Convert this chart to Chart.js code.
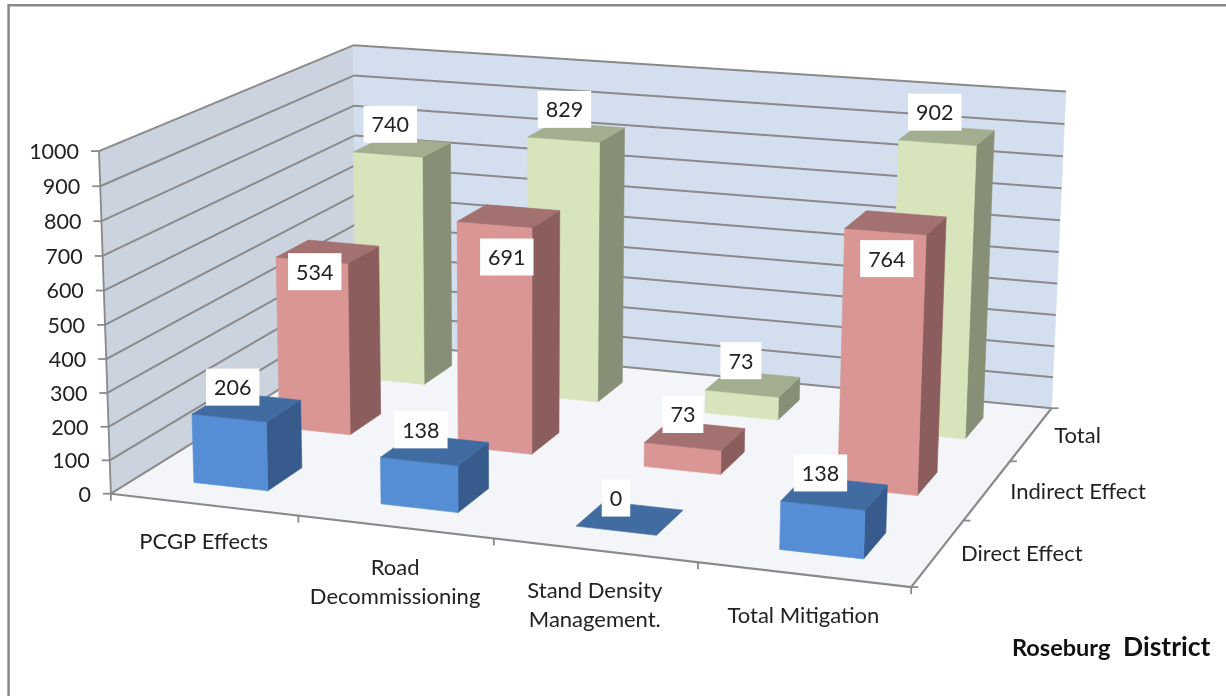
<!DOCTYPE html>
<html>
<head>
  <meta charset="UTF-8">
  <title>Roseburg District</title>
  <script src="https://cdn.jsdelivr.net/npm/chart.js@4"></script>
  <style>
    html, body { margin: 0; padding: 0; background: #fff; overflow: hidden; }
    canvas { display: block; }
  </style>
</head>
<body>
<canvas id="myChart" width="1226" height="696"></canvas>
<script>
  // chart values
  const categories = ["PCGP Effects", ["Road", "Decommissioning"], ["Stand Density", "Management."], "Total Mitigation"];
  const seriesNames = ["Direct Effect", "Indirect Effect", "Total"];
  const directEffect = [206, 138, 0, 138];
  const indirectEffect = [534, 691, 73, 764];
  const totalEffect = [740, 829, 73, 902];
  const valueMax = 1000;
  const valueStep = 100;

  const frontColors = ["#558ed5", "#d99694", "#d7e4bc"];
  const topColors = ["#416ca1", "#a37170", "#a3ad8f"];
  const sideColors = ["#365b8c", "#8b5e5d", "#878f76"];
  const FONT = "Lato, sans-serif";
  const TEXT = "#222";
  const GRID = "#8a8a8a";

  // where the corners of the plot box land on the canvas: [category, depth, value, px, py]
  const boxCorners = [
    [0, 0, 0, 112, 493],
    [0, 0, 1, 98, 151],
    [0, 1, 1, 354.5, 45],
    [0, 1, 0, 356, 342],
    [1, 1, 1, 1065.5, 92],
    [1, 1, 0, 1052, 407],
    [1, 0, 0, 911, 588]
  ];

  // least squares fit of a 3x4 perspective matrix to the corners
  function fitCamera(points) {
    const n = 11;
    const A = [];
    for (let i = 0; i < n; i++) A.push(new Array(n + 1).fill(0));
    function addRow(r, b) {
      for (let i = 0; i < n; i++) {
        for (let j = 0; j < n; j++) A[i][j] += r[i] * r[j];
        A[i][n] += r[i] * b;
      }
    }
    points.forEach(function(p) {
      const X = p[0], Y = p[1], Z = p[2], x = p[3] / 1000, y = p[4] / 1000;
      addRow([X, Y, Z, 1, 0, 0, 0, 0, -x * X, -x * Y, -x * Z], x);
      addRow([0, 0, 0, 0, X, Y, Z, 1, -y * X, -y * Y, -y * Z], y);
    });
    for (let c = 0; c < n; c++) {
      let best = c;
      for (let r = c + 1; r < n; r++) if (Math.abs(A[r][c]) > Math.abs(A[best][c])) best = r;
      const tmp = A[c]; A[c] = A[best]; A[best] = tmp;
      for (let r = 0; r < n; r++) {
        if (r === c) continue;
        const f = A[r][c] / A[c][c];
        for (let k = c; k <= n; k++) A[r][k] -= f * A[c][k];
      }
    }
    return A.map(function(row, i) { return row[n] / row[i]; });
  }

  const cam = fitCamera(boxCorners);

  function project(u, v, w) {
    const d = cam[8] * u + cam[9] * v + cam[10] * w + 1;
    return {
      x: 1000 * (cam[0] * u + cam[1] * v + cam[2] * w + cam[3]) / d,
      y: 1000 * (cam[4] * u + cam[5] * v + cam[6] * w + cam[7]) / d
    };
  }

  function fillPoly(ctx, pts, color) {
    ctx.beginPath();
    pts.forEach(function(p, i) { if (i) ctx.lineTo(p.x, p.y); else ctx.moveTo(p.x, p.y); });
    ctx.closePath();
    ctx.fillStyle = color;
    ctx.fill();
    // same colour hairline so neighbouring faces leave no seam
    ctx.strokeStyle = color;
    ctx.lineWidth = 0.6;
    ctx.stroke();
  }

  function line(ctx, a, b, width) {
    ctx.beginPath();
    ctx.moveTo(a.x, a.y);
    ctx.lineTo(b.x, b.y);
    ctx.strokeStyle = GRID;
    ctx.lineWidth = width;
    ctx.stroke();
  }

  // data label offset from the middle of the top face, one per row,
  // and the tall red ones that were dragged down onto their bars
  const rowLabelShift = [[-14, -20], [-12, -21], [-12, -23]];
  const draggedLabels = { "1:0": [-13, 20], "1:1": [-2, 41], "1:3": [-9, 36] };

  const box3d = {
    id: "box3d",
    beforeDraw: function(chart) {
      const ctx = chart.ctx;
      ctx.save();
      ctx.strokeStyle = "#888";
      ctx.lineWidth = 2.5;
      ctx.beginPath();
      ctx.moveTo(8.6, 700);
      ctx.lineTo(8.6, 5.3);
      ctx.lineTo(1230, 5.3);
      ctx.stroke();
      ctx.restore();
    },
    beforeDatasetsDraw: function(chart) {
      const ctx = chart.ctx;
      const xs = chart.scales.x, zs = chart.scales.depth, ys = chart.scales.y;
      const uOf = function(i) { return (xs.getPixelForValue(i) - xs.left) / xs.width; };
      const vOf = function(i) { return (zs.getPixelForValue(i) - zs.left) / zs.width; };
      const wOf = function(val) { return (ys.bottom - ys.getPixelForValue(val)) / ys.height; };
      const cellU = 1 / categories.length, cellV = 1 / seriesNames.length;
      const halfU = chart.options.barShare * cellU / 2, halfV = chart.options.barShare * cellV / 2;

      ctx.save();
      // walls and floor
      fillPoly(ctx, [project(0, 0, 0), project(0, 1, 0), project(0, 1, 1), project(0, 0, 1)], "#cbd3df");
      fillPoly(ctx, [project(0, 1, 0), project(1, 1, 0), project(1, 1, 1), project(0, 1, 1)], "#d3deef");
      fillPoly(ctx, [project(0, 0, 0), project(1, 0, 0), project(1, 1, 0), project(0, 1, 0)], "#f3f5f8");

      // gridlines and value labels
      ctx.font = "21.5px " + FONT;
      ctx.textAlign = "right";
      ctx.textBaseline = "middle";
      ys.ticks.forEach(function(t) {
        const w = wOf(t.value);
        const a = project(0, 0, w), b = project(0, 1, w), c = project(1, 1, w);
        line(ctx, a, b, 2);
        line(ctx, b, c, 2);
        line(ctx, a, { x: a.x - 8, y: a.y }, 1.8);
        ctx.fillStyle = TEXT;
        ctx.fillText(t.label, a.x - 20, a.y + 1);
      });
      // left edge and the two floor axes
      line(ctx, project(0, 0, 0), project(0, 0, 1), 1.8);
      line(ctx, project(0, 0, 0), project(1, 0, 0), 2.2);
      line(ctx, project(1, 0, 0), project(1, 1, 0), 2.2);

      // category axis ticks and names
      for (let i = 0; i <= categories.length; i++) {
        const p = project(i * cellU, 0, 0);
        line(ctx, p, { x: p.x, y: p.y + 7 }, 1.8);
      }
      ctx.font = "22px " + FONT;
      ctx.textAlign = "center";
      ctx.textBaseline = "middle";
      ctx.fillStyle = TEXT;
      categories.forEach(function(name, i) {
        const p = project(uOf(i), 0, 0);
        const rows = Array.isArray(name) ? name : [name];
        rows.forEach(function(row, r) {
          ctx.fillText(row, p.x, p.y + (i === 0 ? 37 : 41) + r * 29);
        });
      });

      // depth axis ticks and series names
      for (let i = 0; i <= seriesNames.length; i++) {
        const p = project(1, i * cellV, 0);
        line(ctx, p, { x: p.x + 7, y: p.y }, 1.8);
      }
      ctx.textAlign = "left";
      seriesNames.forEach(function(name, s) {
        const p = project(1, vOf(s), 0);
        ctx.fillStyle = TEXT;
        ctx.fillText(name, p.x + 23, p.y + 1.5);
      });

      // boxes, back row first
      const labels = [];
      for (let s = seriesNames.length - 1; s >= 0; s--) {
        const data = chart.data.datasets[s].data;
        data.forEach(function(val, i) {
          const u0 = uOf(i) - halfU, u1 = uOf(i) + halfU;
          const v0 = vOf(s) - halfV, v1 = vOf(s) + halfV;
          const w = wOf(val);
          if (val > 0) {
            fillPoly(ctx, [project(u1, v0, 0), project(u1, v1, 0), project(u1, v1, w), project(u1, v0, w)], sideColors[s]);
            fillPoly(ctx, [project(u0, v0, 0), project(u1, v0, 0), project(u1, v0, w), project(u0, v0, w)], frontColors[s]);
          }
          fillPoly(ctx, [project(u0, v0, w), project(u1, v0, w), project(u1, v1, w), project(u0, v1, w)], topColors[s]);
          const top = project(uOf(i), vOf(s), w);
          const shift = draggedLabels[s + ":" + i] || rowLabelShift[s];
          labels.push({ x: top.x + shift[0], y: top.y + shift[1], text: String(val) });
        });
      }

      // data labels go over everything
      ctx.font = "21.5px " + FONT;
      ctx.textAlign = "center";
      labels.forEach(function(l) {
        const bw = ctx.measureText(l.text).width + 16;
        ctx.fillStyle = "#fff";
        ctx.fillRect(l.x - bw / 2, l.y - 18.5, bw, 37);
        ctx.fillStyle = TEXT;
        ctx.fillText(l.text, l.x, l.y + 1);
      });

      // district caption, two sizes as typed
      ctx.textAlign = "left";
      ctx.textBaseline = "alphabetic";
      ctx.fillStyle = "#111";
      ctx.font = "bold 23.5px " + FONT;
      ctx.fillText("Roseburg", 1012, 656);
      ctx.font = "bold 26.5px " + FONT;
      ctx.fillText("District", 1123, 656);
      ctx.restore();
      return false; // the flat bars are not wanted, only the boxes above
    }
  };

  new Chart(document.getElementById("myChart"), {
    type: "bar",
    data: {
      labels: categories,
      datasets: [
        { label: seriesNames[0], data: directEffect, backgroundColor: frontColors[0] },
        { label: seriesNames[1], data: indirectEffect, backgroundColor: frontColors[1] },
        { label: seriesNames[2], data: totalEffect, backgroundColor: frontColors[2] }
      ]
    },
    options: {
      responsive: false,
      animation: false,
      barShare: 0.4, // gap width 150%
      plugins: { legend: { display: false }, tooltip: { enabled: false } },
      scales: {
        x: { type: "category", display: false, ticks: { autoSkip: false } },
        depth: { type: "category", axis: "x", labels: seriesNames, display: false, ticks: { autoSkip: false } },
        y: {
          type: "linear", display: false, min: 0, max: valueMax,
          ticks: { stepSize: valueStep, callback: function(v) { return String(v); } }
        }
      }
    },
    plugins: [box3d]
  });
</script>
</body>
</html>
